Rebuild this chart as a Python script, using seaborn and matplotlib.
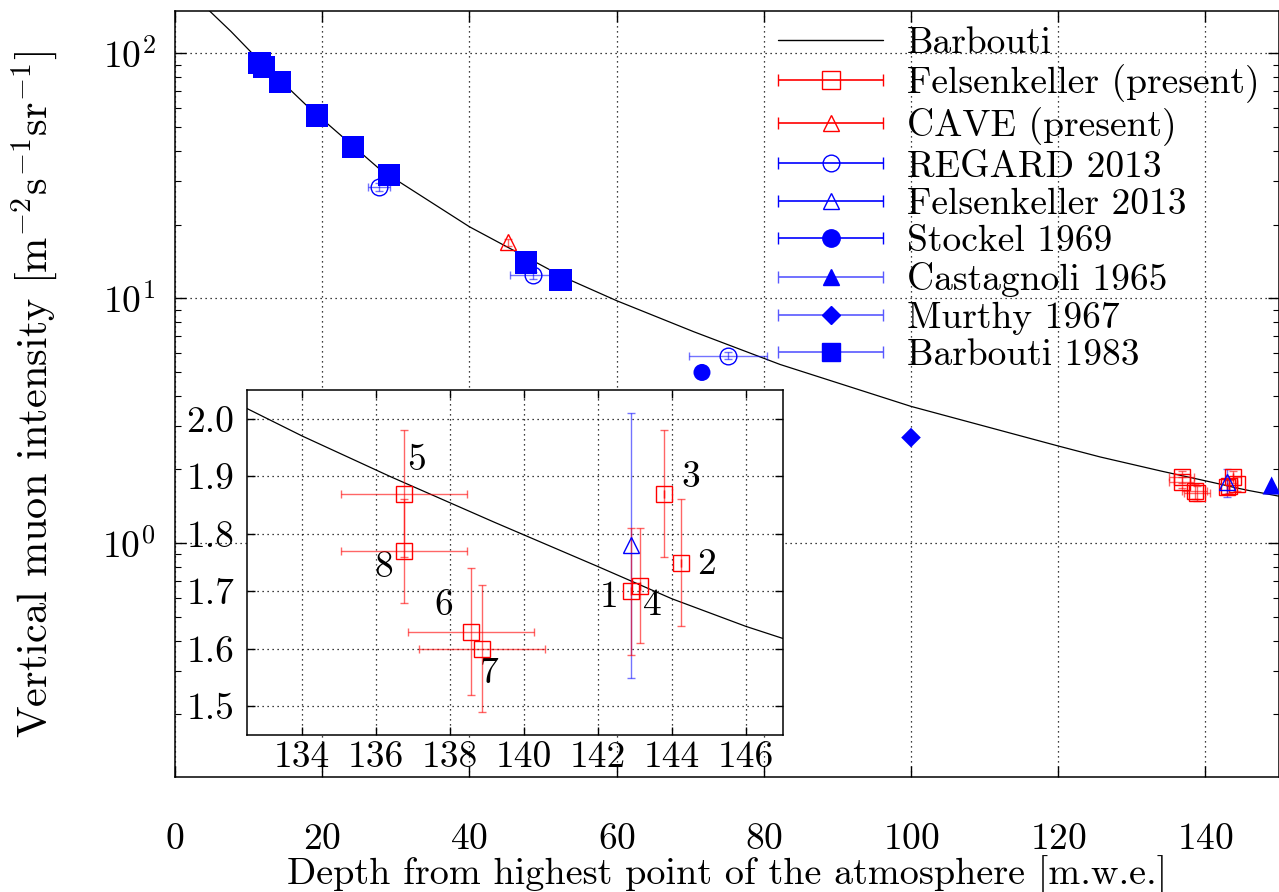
import numpy as np
import pandas as pd
import matplotlib
matplotlib.use("Agg")
import matplotlib.pyplot as plt
import seaborn as sns
from matplotlib.lines import Line2D
from matplotlib.container import ErrorbarContainer
from matplotlib.legend_handler import HandlerErrorbar
from matplotlib.ticker import FormatStrFormatter, FixedLocator

# ---------------- data ----------------
# Barbouti parametrisation curve
curve_depth = [4.6, 7.6, 10.5, 18.0, 27.9, 40.0, 52.8, 60.0, 70.5, 82.2, 100.0,
               120.1, 125.7, 132.5, 134.0, 136.4, 139.2, 142.0, 144.0, 146.0, 147.0, 150.0]
curve_int = [150, 123, 100, 60.8, 33.5, 19.6, 12.2, 9.78, 7.3, 5.37, 3.62,
             2.49, 2.25, 2.018, 1.970, 1.899, 1.820, 1.743, 1.687, 1.639, 1.618, 1.556]

# Felsenkeller (present), points 1..8
fk_labels = ["1", "2", "3", "4", "5", "6", "7", "8"]
fk_depth = [142.9, 144.26, 143.78, 143.15, 136.76, 138.57, 138.86, 136.76]
fk_int = [1.70, 1.75, 1.87, 1.71, 1.87, 1.63, 1.60, 1.77]
fk_int_err = [0.11, 0.11, 0.11, 0.10, 0.11, 0.11, 0.11, 0.09]
fk_depth_err = [0.0, 0.0, 0.0, 0.0, 1.7, 1.7, 1.7, 1.7]

# CAVE (present)
cave_depth = [45.3]
cave_int = [16.9]
cave_int_err = [0.6]

# REGARD 2013
regard_depth = [27.7, 48.65, 75.1]
regard_int = [28.5, 12.4, 5.84]
regard_depth_err = [1.45, 3.2, 5.3]
regard_int_err = [1.1, 0.45, 0.2]

# Felsenkeller 2013
fk13_depth = [142.9]
fk13_int = [1.78]
fk13_int_err = [0.23]

# Stockel 1969, Castagnoli 1965, Murthy 1967, Barbouti 1983
stockel_depth = [71.6]
stockel_int = [4.98]
castagnoli_depth = [149.0]
castagnoli_int = [1.72]
murthy_depth = [100.0]
murthy_int = [2.70]
barb83_depth = [11.5, 12.1, 14.25, 19.3, 24.2, 29.05, 47.65, 52.4]
barb83_int = [91.6, 88.2, 76.6, 55.7, 41.5, 31.9, 14.0, 11.9]

legend_labels = ["Barbouti", "Felsenkeller (present)", "CAVE (present)", "REGARD 2013",
                 "Felsenkeller 2013", "Stockel 1969", "Castagnoli 1965", "Murthy 1967",
                 "Barbouti 1983"]

main_xticks = [0, 20, 40, 60, 80, 100, 120, 140]
inset_xticks = [134, 136, 138, 140, 142, 144, 146]
inset_yticks = [1.5, 1.6, 1.7, 1.8, 1.9, 2.0]

# label offsets (points) for the inset numbering
fk_label_offsets = [(-15.6, -4.5), (18, -1), (19.4, 11.6), (8.5, -14.5),
                    (9, 24), (-19.6, 19), (5.6, -18), (-15, -12)]

# ---------------- style ----------------
sns.set_theme(style="ticks")
plt.rcParams.update({
    "font.family": ["cmr10"],
    "mathtext.fontset": "cm",
    "axes.formatter.use_mathtext": True,
    "axes.unicode_minus": False,
    "font.size": 27,
    "text.color": "black",
    "axes.labelcolor": "black",
    "axes.edgecolor": "black",
    "xtick.color": "black",
    "ytick.color": "black",
    "axes.linewidth": 1.1,
})

W, H = 1279, 892
fig = plt.figure(figsize=(W / 100, H / 100), dpi=100)
fig.patch.set_facecolor("white")

RED = "#ff0000"
BLUE = "#0000ff"
RED_E = (1, 0, 0, 0.6)
BLUE_E = (0, 0, 1, 0.55)
grid_kw = dict(color="black", linestyle=(0, (1, 3)), linewidth=0.9)

# ---------------- main axes ----------------
ax = fig.add_axes([175 / W, 1 - 777 / H, (W - 175) / W, (777 - 11) / H])
ax.set_yscale("log")

curve_df = pd.DataFrame({"depth": curve_depth, "intensity": curve_int})
sns.lineplot(data=curve_df, x="depth", y="intensity", ax=ax, color="black",
             linewidth=0.9, sort=False, estimator=None, legend=False, zorder=3)

ekw = dict(linestyle="none", capsize=3, elinewidth=1.0, capthick=1.0)
ax.errorbar(fk_depth, fk_int, xerr=fk_depth_err, yerr=fk_int_err, fmt="s", ms=11,
            mfc="none", mec=RED, mew=1.0, ecolor=RED_E, zorder=4, **ekw)
ax.errorbar(cave_depth, cave_int, yerr=cave_int_err, fmt="^", ms=11,
            mfc="none", mec=RED, mew=1.0, ecolor=RED_E, zorder=4, **ekw)
ax.errorbar(regard_depth, regard_int, xerr=regard_depth_err, yerr=regard_int_err, fmt="o",
            ms=12, mfc="none", mec=BLUE, mew=1.0, ecolor=BLUE_E, zorder=4, **ekw)
ax.errorbar(fk13_depth, fk13_int, yerr=fk13_int_err, fmt="^", ms=11,
            mfc="none", mec=BLUE, mew=1.0, ecolor=BLUE_E, zorder=4, **ekw)

sns.scatterplot(x=stockel_depth, y=stockel_int, marker="o", s=150, color=BLUE,
                edgecolor="none", ax=ax, legend=False, zorder=5)
sns.scatterplot(x=castagnoli_depth, y=castagnoli_int, marker="^", s=170, color=BLUE,
                edgecolor="none", ax=ax, legend=False, zorder=5)
sns.scatterplot(x=murthy_depth, y=murthy_int, marker="D", s=100, color=BLUE,
                edgecolor="none", ax=ax, legend=False, zorder=5)
sns.scatterplot(x=barb83_depth, y=barb83_int, marker="s", s=260, color=BLUE,
                edgecolor="none", ax=ax, legend=False, zorder=5)

ax.set_xlim(0, 150)
ax.set_ylim(0.111, 149)
ax.xaxis.set_major_locator(FixedLocator(main_xticks))
ax.tick_params(which="both", direction="in", top=True, right=True)
ax.tick_params(which="major", length=8, width=1.0)
ax.tick_params(which="minor", length=4, width=0.8)
ax.tick_params(axis="x", which="major", pad=33, labelsize=27)
ax.tick_params(axis="y", which="major", pad=14, labelsize=27)
ax.grid(True, which="major", **grid_kw)

ax.set_xlabel("Depth from highest point of the atmosphere [m.w.e.]", fontsize=27.5)
ax.xaxis.set_label_coords(0.5, -0.103)
ax.set_ylabel(r"Vertical muon intensity [m$^{-2}$s$^{-1}$sr$^{-1}$]", fontsize=30.5)
ax.yaxis.set_label_coords(-0.105, 0.5)

# legend proxies
def proxy(marker, filled, color, ecolor, ms=12):
    return ax.errorbar([np.nan], [np.nan], xerr=[1.0], fmt=marker, ms=ms,
                       mfc=color if filled else "none", mec=color, mew=1.0,
                       ecolor=ecolor, elinewidth=1.2, capsize=4, capthick=1.2)

handles = [
    Line2D([], [], color="black", lw=1.0),
    proxy("s", False, RED, RED, 12.5),
    proxy("^", False, RED, RED, 12),
    proxy("o", False, BLUE, BLUE, 12),
    proxy("^", False, BLUE, BLUE, 12),
    proxy("o", True, BLUE, BLUE, 12.5),
    proxy("^", True, BLUE, (0.35, 0.35, 1.0), 12),
    proxy("D", True, BLUE, (0.35, 0.35, 1.0), 9),
    proxy("s", True, BLUE, (0.35, 0.35, 1.0), 12.5),
]
leg = ax.legend(handles, legend_labels, loc="upper left",
                bbox_to_anchor=(778 / W, 1 - 27 / H), bbox_transform=fig.transFigure,
                frameon=False, handlelength=2.8, handletextpad=0.63, labelspacing=0.11,
                borderpad=0, borderaxespad=0, fontsize=27,
                handler_map={ErrorbarContainer: HandlerErrorbar(xerr_size=1.4)})

# ---------------- inset ----------------
axin = fig.add_axes([246.7 / W, 1 - 735 / H, (782.7 - 246.7) / W, (735 - 390) / H])
axin.set_facecolor("white")
sns.lineplot(data=curve_df, x="depth", y="intensity", ax=axin, color="black",
             linewidth=0.9, sort=False, estimator=None, legend=False, zorder=3)
axin.errorbar(fk13_depth, fk13_int, yerr=fk13_int_err, fmt="^", ms=12,
              mfc="none", mec=BLUE, mew=1.0, ecolor=BLUE_E, zorder=4, **ekw)
axin.errorbar(fk_depth, fk_int, xerr=fk_depth_err, yerr=fk_int_err, fmt="s", ms=12,
              mfc="none", mec=RED, mew=1.0, ecolor=RED_E, zorder=4, **ekw)
for lab, x, y, off in zip(fk_labels, fk_depth, fk_int, fk_label_offsets):
    axin.annotate(lab, (x, y), xytext=off, textcoords="offset points",
                  ha="center", va="center", fontsize=27)

axin.set_xlim(132.5, 147.0)
axin.set_ylim(1.45, 2.05)
axin.xaxis.set_major_locator(FixedLocator(inset_xticks))
axin.yaxis.set_major_locator(FixedLocator(inset_yticks))
axin.yaxis.set_major_formatter(FormatStrFormatter("%.1f"))
axin.xaxis.set_major_formatter(FormatStrFormatter("%d"))
axin.tick_params(which="both", direction="in", top=True, right=True, length=6, width=1.0)
axin.tick_params(axis="x", pad=4, labelsize=27)
axin.tick_params(axis="y", pad=9, labelsize=27)
axin.grid(True, which="major", **grid_kw)
axin.set_xlabel("")
axin.set_ylabel("")

fig.savefig("out.png", dpi=100)
